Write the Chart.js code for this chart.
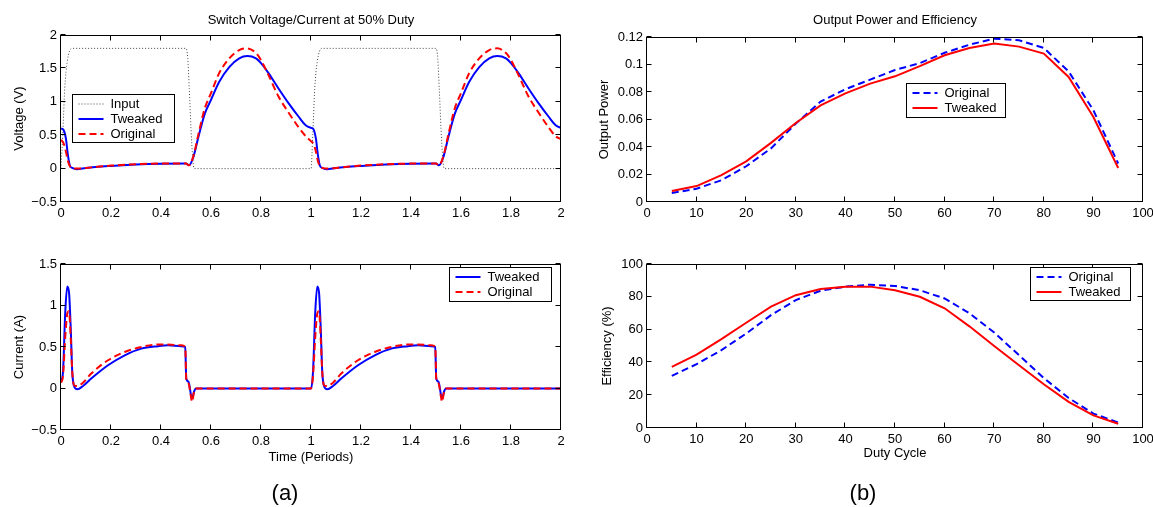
<!DOCTYPE html>
<html>
<head>
  <meta charset="UTF-8">
  <title>Switch Voltage/Current and Output Power</title>
  <script src="https://cdn.jsdelivr.net/npm/chart.js@4.4.1/dist/chart.umd.min.js"></script>
  <style>
    body { margin: 0; background: #fff; overflow: hidden; }
    #fig { position: relative; width: 1153px; height: 507px; overflow: hidden; }
    #fig canvas { position: absolute; }
    .panel { position: absolute; transform: translate(-50%, -50%); font: 22px "Liberation Sans", Arial, sans-serif; color: #000; }
  </style>
</head>
<body>
  <div id="fig">
    <canvas id="voltChart" width="580" height="235" style="left:0;top:0"></canvas>
    <canvas id="currChart" width="580" height="272" style="left:0;top:235px"></canvas>
    <canvas id="powerChart" width="600" height="235" style="left:580px;top:0"></canvas>
    <canvas id="effChart" width="600" height="272" style="left:580px;top:235px"></canvas>
    <div class="panel" style="left:285px;top:493px">(a)</div>
    <div class="panel" style="left:863px;top:493px">(b)</div>
  </div>
  <script>
    // ---- (a) switch waveforms, time in periods ----
    const inputTime = [0, 0.007, 0.015, 0.025, 0.043, 0.5, 0.507, 0.513, 0.52, 0.527, 0.533,
                       1, 1.007, 1.015, 1.025, 1.043, 1.5, 1.507, 1.513, 1.52, 1.527, 1.533, 2];
    const inputVolt = [0, 0.5, 1.2, 1.6, 1.8, 1.8, 1.65, 1.2, 0.6, 0.15, 0,
                       0, 0.5, 1.2, 1.6, 1.8, 1.8, 1.65, 1.2, 0.6, 0.15, 0, 0];

    const voltTime = [0, 0.01, 0.02, 0.027, 0.035, 0.045, 0.063, 0.1, 0.2, 0.3, 0.4, 0.5, 0.512, 0.53,
                      0.55, 0.575, 0.6, 0.633, 0.673, 0.713, 0.745, 0.78, 0.8, 0.83, 0.87, 0.91, 0.95, 0.98,
                      1, 1.01, 1.02, 1.027, 1.035, 1.045, 1.063, 1.1, 1.2, 1.3, 1.4, 1.5, 1.512, 1.53,
                      1.55, 1.575, 1.6, 1.633, 1.673, 1.713, 1.745, 1.78, 1.8, 1.83, 1.87, 1.91, 1.95, 1.98, 2];
    const voltTweaked = [0.60, 0.58, 0.44, 0.22, 0.05, 0.01, -0.01, 0.01, 0.04, 0.06, 0.072, 0.076, 0.05, 0.18,
                         0.48, 0.82, 1.03, 1.30, 1.52, 1.65, 1.685, 1.65, 1.58, 1.43, 1.20, 0.98, 0.78, 0.645,
                         0.61, 0.59, 0.44, 0.22, 0.05, 0.01, -0.01, 0.01, 0.04, 0.06, 0.072, 0.076, 0.05, 0.18,
                         0.48, 0.82, 1.03, 1.30, 1.52, 1.65, 1.685, 1.65, 1.58, 1.43, 1.20, 0.98, 0.78, 0.645, 0.61];
    const voltOriginal = [0.43, 0.38, 0.25, 0.12, 0.04, 0.01, 0.0, 0.01, 0.045, 0.065, 0.075, 0.076, 0.05, 0.19,
                          0.52, 0.90, 1.13, 1.43, 1.65, 1.775, 1.80, 1.73, 1.625, 1.40, 1.08, 0.84, 0.62, 0.48,
                          0.41, 0.37, 0.25, 0.12, 0.04, 0.01, 0.0, 0.01, 0.045, 0.065, 0.075, 0.076, 0.05, 0.19,
                          0.52, 0.90, 1.13, 1.43, 1.65, 1.775, 1.80, 1.73, 1.625, 1.40, 1.08, 0.84, 0.62, 0.48, 0.44];

    const currTime = [0, 0.008, 0.017, 0.025, 0.032, 0.039, 0.045, 0.052, 0.065, 0.088, 0.121, 0.188,
                      0.255, 0.321, 0.388, 0.428, 0.481, 0.497, 0.501, 0.51, 0.52, 0.524, 0.533, 0.54,
                      1, 1.008, 1.017, 1.025, 1.032, 1.039, 1.045, 1.052, 1.065, 1.088, 1.121, 1.188,
                      1.255, 1.321, 1.388, 1.428, 1.481, 1.497, 1.501, 1.51, 1.52, 1.524, 1.533, 1.54, 2];
    const currTweaked = [0.08, 0.20, 0.92, 1.23, 1.16, 0.72, 0.20, 0.03, -0.01, 0.03, 0.12, 0.28,
                         0.40, 0.48, 0.51, 0.52, 0.51, 0.50, 0.12, 0.08, -0.08, -0.12, -0.03, 0,
                         0, 0.20, 0.92, 1.23, 1.16, 0.72, 0.20, 0.03, -0.01, 0.03, 0.12, 0.28,
                         0.40, 0.48, 0.51, 0.52, 0.51, 0.50, 0.12, 0.08, -0.08, -0.12, -0.03, 0, 0];
    const currOriginal = [0.07, 0.15, 0.62, 0.90, 0.93, 0.60, 0.20, 0.04, 0.03, 0.07, 0.18, 0.34,
                          0.44, 0.50, 0.53, 0.53, 0.52, 0.50, 0.12, 0.06, -0.10, -0.16, -0.03, 0,
                          0, 0.15, 0.62, 0.90, 0.93, 0.60, 0.20, 0.04, 0.03, 0.07, 0.18, 0.34,
                          0.44, 0.50, 0.53, 0.53, 0.52, 0.50, 0.12, 0.06, -0.10, -0.16, -0.03, 0, 0];

    // ---- (b) duty cycle sweep ----
    const dutyCycle = [5, 10, 15, 20, 25, 30, 35, 40, 45, 50, 55, 60, 65, 70, 75, 80, 85, 90, 95];
    const powerOriginal = [0.0065, 0.0097, 0.0158, 0.026, 0.039, 0.057, 0.073, 0.082, 0.089, 0.096,
                           0.101, 0.1085, 0.1144, 0.1188, 0.1176, 0.112, 0.095, 0.0667, 0.028];
    const powerTweaked = [0.008, 0.0116, 0.0196, 0.0296, 0.043, 0.0575, 0.0703, 0.079, 0.0861, 0.0914,
                          0.0988, 0.1067, 0.112, 0.1152, 0.113, 0.1079, 0.0909, 0.0618, 0.0247];
    const effOriginal = [31.8, 38.9, 47.5, 57.6, 68.8, 78, 83.7, 86.2, 87.4, 86.6,
                         84, 79, 70, 58.2, 44.4, 30.5, 18.3, 8.8, 3.3];
    const effTweaked = [37.3, 44.8, 54.2, 64.2, 74, 81, 84.7, 86.2, 86.2, 84,
                        80, 73, 62, 50, 38.3, 26.7, 15.9, 7.7, 2.6];

    // tick labels
    const timeTicks = [0, 0.2, 0.4, 0.6, 0.8, 1, 1.2, 1.4, 1.6, 1.8, 2];
    const voltTicks = [-0.5, 0, 0.5, 1, 1.5, 2];
    const currTicks = [-0.5, 0, 0.5, 1, 1.5];
    const dutyTicks = [0, 10, 20, 30, 40, 50, 60, 70, 80, 90, 100];
    const powerTicks = [0, 0.02, 0.04, 0.06, 0.08, 0.1, 0.12];
    const effTicks = [0, 20, 40, 60, 80, 100];

    const FONT = '"Liberation Sans", Arial, Helvetica, sans-serif';
    Chart.defaults.font.family = FONT;
    Chart.defaults.font.size = 13;
    Chart.defaults.color = '#000';

    const xy = (xs, ys) => xs.map((x, i) => ({ x: x, y: ys[i] }));

    // matlab style box with inward ticks on all four sides
    const frameTicks = {
      id: 'frameTicks',
      afterDatasetsDraw(chart) {
        const { ctx, chartArea: a, scales: { x, y } } = chart;
        const len = 5;
        const L = Math.round(a.left) - 0.5, R = Math.round(a.right) - 0.5;
        const T = Math.round(a.top) + 0.5, B = Math.round(a.bottom) - 0.5;
        ctx.save();
        ctx.strokeStyle = '#000';
        ctx.lineWidth = 1;
        ctx.setLineDash([]);
        ctx.beginPath();
        x.ticks.forEach(t => {
          const px = Math.round(x.getPixelForValue(t.value)) - 0.5;
          ctx.moveTo(px, B); ctx.lineTo(px, B - len);
          ctx.moveTo(px, T); ctx.lineTo(px, T + len);
        });
        y.ticks.forEach(t => {
          const py = Math.round(y.getPixelForValue(t.value)) - 0.5;
          ctx.moveTo(L, py); ctx.lineTo(L + len, py);
          ctx.moveTo(R, py); ctx.lineTo(R - len, py);
        });
        ctx.stroke();
        ctx.strokeRect(L, T, R - L, B - T);
        ctx.restore();
      }
    };

    // boxed legend placed inside the plot area
    const boxLegend = {
      id: 'boxLegend',
      afterDraw(chart, args, opts) {
        if (!opts || opts.width === undefined) return;
        const { ctx, chartArea } = chart;
        const x0 = Math.round(chartArea.left + opts.left) + 0.5;
        const y0 = Math.round(chartArea.top + opts.top) + 0.5;
        const sets = chart.data.datasets;
        ctx.save();
        ctx.fillStyle = '#fff';
        ctx.fillRect(x0, y0, opts.width, opts.height);
        ctx.strokeStyle = '#000';
        ctx.lineWidth = 1;
        ctx.setLineDash([]);
        ctx.strokeRect(x0, y0, opts.width, opts.height);
        ctx.font = '13px ' + FONT;
        ctx.textBaseline = 'middle';
        const first = y0 + opts.height / 2 - (sets.length - 1) * opts.rowGap / 2;
        sets.forEach((ds, i) => {
          const yy = Math.round(first + i * opts.rowGap);
          ctx.beginPath();
          ctx.strokeStyle = ds.borderColor;
          ctx.lineWidth = ds.borderWidth;
          ctx.setLineDash(ds.borderDash || []);
          ctx.moveTo(x0 + 6, yy);
          ctx.lineTo(x0 + 31, yy);
          ctx.stroke();
          ctx.fillStyle = '#000';
          ctx.fillText(ds.label, x0 + 38, yy);
        });
        ctx.restore();
      }
    };

    function axis(ticks, size, horizontal, title, titlePad) {
      return {
        type: 'linear',
        min: ticks[0],
        max: ticks[ticks.length - 1],
        afterBuildTicks: s => { s.ticks = ticks.map(v => ({ value: v })); },
        afterFit: s => { if (horizontal) s.height = size; else s.width = size; },
        grid: { display: false, drawTicks: false },
        border: { display: false },
        ticks: {
          padding: 4, color: '#000', maxRotation: 0, autoSkip: false,
          callback: v => String(v).replace('-', '\u2212')
        },
        title: title ? {
          display: true, text: title, color: '#000',
          font: { size: 13, lineHeight: 1 },
          padding: horizontal ? { top: 0, bottom: titlePad } : { top: titlePad, bottom: 0 }
        } : { display: false }
      };
    }

    function panel(id, o) {
      return new Chart(document.getElementById(id), {
        type: 'line',
        data: { datasets: o.datasets },
        options: {
          responsive: false,
          animation: false,
          events: [],
          layout: { padding: o.padding },
          elements: { point: { radius: 0 } },
          plugins: {
            legend: { display: false },
            tooltip: { enabled: false },
            title: o.title ? {
              display: true, text: o.title, fullSize: false, color: '#000',
              font: { size: 13, weight: 'normal', lineHeight: 1 },
              padding: o.titlePad
            } : { display: false },
            boxLegend: o.legend
          },
          scales: { x: o.x, y: o.y }
        },
        plugins: [frameTicks, boxLegend]
      });
    }

    const smooth = { cubicInterpolationMode: 'monotone', pointRadius: 0 };
    const blueSolid = { borderColor: '#0000ff', borderWidth: 2, order: 1 };
    const blueDash = { borderColor: '#0000ff', borderWidth: 2, borderDash: [7, 4], order: 1 };
    const redSolid = { borderColor: '#ff0000', borderWidth: 2, order: 0 };
    const redDash = { borderColor: '#ff0000', borderWidth: 2, borderDash: [7, 4], order: 0 };

    panel('voltChart', {
      padding: { top: 0, right: 19, bottom: 0, left: 0 },
      title: 'Switch Voltage/Current at 50% Duty',
      titlePad: { top: 14, bottom: 8 },
      x: axis(timeTicks, 33, true),
      y: axis(voltTicks, 61, false, 'Voltage (V)', 13),
      legend: { left: 11, top: 59, width: 102, height: 48, rowGap: 15 },
      datasets: [
        Object.assign({ label: 'Input', data: xy(inputTime, inputVolt),
          borderColor: '#444', borderWidth: 1, borderDash: [1, 2], order: 2 }, smooth),
        Object.assign({ label: 'Tweaked', data: xy(voltTime, voltTweaked) }, blueSolid, smooth),
        Object.assign({ label: 'Original', data: xy(voltTime, voltOriginal) }, redDash, smooth)
      ]
    });

    panel('currChart', {
      padding: { top: 29, right: 19, bottom: 0, left: 0 },
      x: axis(timeTicks, 77, true, 'Time (Periods)', 43),
      y: axis(currTicks, 61, false, 'Current (A)', 13),
      legend: { left: 388, top: 3, width: 102, height: 34, rowGap: 15 },
      datasets: [
        Object.assign({ label: 'Tweaked', data: xy(currTime, currTweaked) }, blueSolid, smooth),
        Object.assign({ label: 'Original', data: xy(currTime, currOriginal) }, redDash, smooth)
      ]
    });

    panel('powerChart', {
      padding: { top: 0, right: 37, bottom: 0, left: 0 },
      title: 'Output Power and Efficiency',
      titlePad: { top: 14, bottom: 10 },
      x: axis(dutyTicks, 33, true),
      y: axis(powerTicks, 67, false, 'Output Power', 18),
      legend: { left: 259, top: 46, width: 99, height: 34, rowGap: 15 },
      datasets: [
        Object.assign({ label: 'Original', data: xy(dutyCycle, powerOriginal), tension: 0 }, blueDash),
        Object.assign({ label: 'Tweaked', data: xy(dutyCycle, powerTweaked), tension: 0 }, redSolid)
      ]
    });

    panel('effChart', {
      padding: { top: 29, right: 37, bottom: 0, left: 0 },
      x: axis(dutyTicks, 79, true, 'Duty Cycle', 47),
      y: axis(effTicks, 67, false, 'Efficiency (%)', 21),
      legend: { left: 383, top: 3, width: 100, height: 33, rowGap: 15 },
      datasets: [
        Object.assign({ label: 'Original', data: xy(dutyCycle, effOriginal), tension: 0 }, blueDash),
        Object.assign({ label: 'Tweaked', data: xy(dutyCycle, effTweaked), tension: 0 }, redSolid)
      ]
    });
  </script>
</body>
</html>
